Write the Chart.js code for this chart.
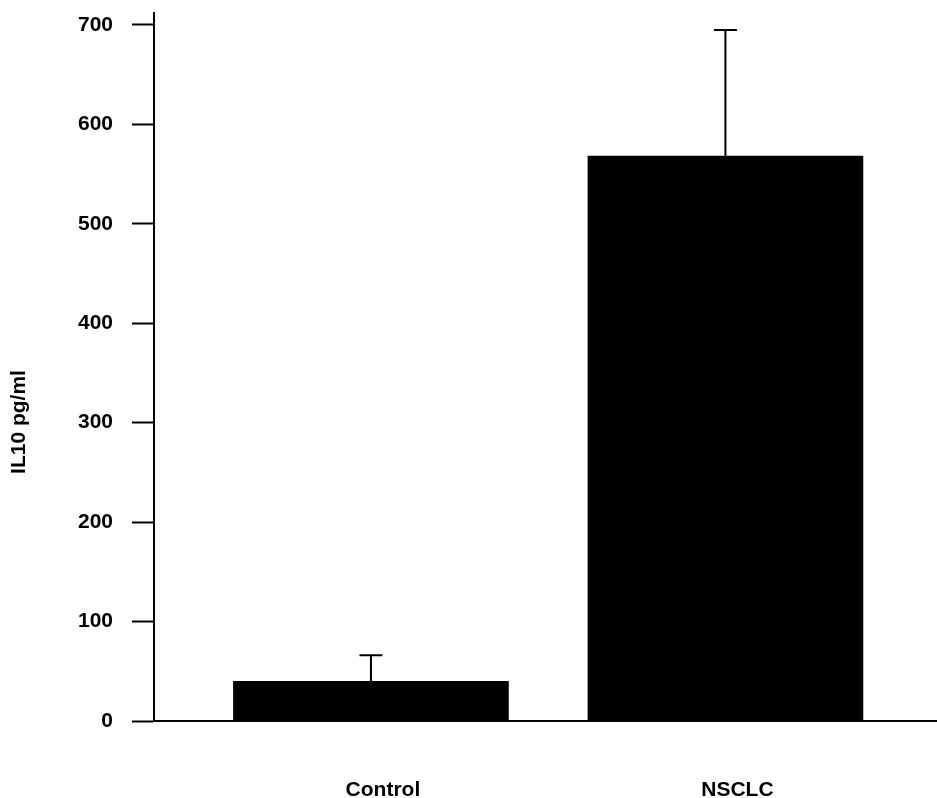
<!DOCTYPE html>
<html>
<head>
<meta charset="utf-8">
<title>IL10</title>
<script src="https://cdn.jsdelivr.net/npm/chart.js@4.4.1/dist/chart.umd.min.js"></script>
<style>
  html, body { margin: 0; padding: 0; background: #fff; }
  canvas { display: block; }
</style>
</head>
<body>
<canvas id="il10Chart" width="937" height="798"></canvas>
<script>
// values
const categories = ["Control", "NSCLC"];
const means = [40, 568];
const errors = [26, 127];
const yTicks = [0, 100, 200, 300, 400, 500, 600, 700];
const yTitle = "IL10 pg/ml";

const FONT = { family: "'Liberation Sans', Arial, sans-serif", size: 21, weight: "bold" };

// upper error bars drawn through the scales
const errorBars = {
  id: "errorBars",
  afterDatasetsDraw(chart) {
    const { ctx, scales } = chart;
    const meta = chart.getDatasetMeta(0);
    ctx.save();
    ctx.strokeStyle = "#000";
    ctx.lineWidth = 2;
    meta.data.forEach((bar, i) => {
      const x = bar.x;
      const y0 = scales.y.getPixelForValue(means[i]);
      const y1 = scales.y.getPixelForValue(means[i] + errors[i]);
      ctx.beginPath();
      ctx.moveTo(x, y0);
      ctx.lineTo(x, y1);
      ctx.moveTo(x - 11.5, y1);
      ctx.lineTo(x + 11.5, y1);
      ctx.stroke();
    });
    ctx.restore();
  },
};

// y title sits lower than the axis middle in the original
const yTitlePlugin = {
  id: "yTitlePlugin",
  afterDraw(chart) {
    const { ctx } = chart;
    ctx.save();
    ctx.translate(19, 422);
    ctx.rotate(-Math.PI / 2);
    ctx.font = `${FONT.weight} ${FONT.size}px ${FONT.family}`;
    ctx.fillStyle = "#000";
    ctx.textAlign = "center";
    ctx.textBaseline = "middle";
    ctx.fillText(yTitle, 0, 0);
    ctx.restore();
  },
};

const ctx = document.getElementById("il10Chart").getContext("2d");
new Chart(ctx, {
  type: "bar",
  data: {
    datasets: [
      {
        data: categories.map((c, i) => ({ x: i + 1, y: means[i] })),
        backgroundColor: "#000",
        borderWidth: 0,
        barThickness: 275,
      },
    ],
  },
  options: {
    responsive: false,
    animation: false,
    layout: { padding: { top: 13, right: 1, left: 0, bottom: 0 } },
    plugins: {
      legend: { display: false },
      tooltip: { enabled: false },
    },
    scales: {
      x: {
        type: "linear",
        offset: false,
        min: 0.388,
        max: 2.594,
        afterBuildTicks: (scale) => {
          scale.ticks = categories.map((c, i) => ({ value: i + 1 }));
        },
        afterFit: (scale) => {
          scale.height = 77;
          scale.paddingLeft = 0;
          scale.paddingRight = 0;
        },
        ticks: {
          callback: (value) => categories[value - 1],
          font: FONT,
          color: "#000",
          padding: 49,
          labelOffset: 12,
          maxRotation: 0,
        },
        grid: { display: false, offset: false },
        border: { display: true, color: "#000", width: 2 },
      },
      y: {
        min: 0,
        max: 712,
        afterBuildTicks: (scale) => {
          scale.ticks = yTicks.map((v) => ({ value: v }));
        },
        afterFit: (scale) => {
          scale.width = 154;
          scale.paddingTop = 0;
          scale.paddingBottom = 0;
        },
        ticks: {
          font: FONT,
          color: "#000",
          padding: 19,
        },
        grid: {
          drawOnChartArea: false,
          drawTicks: true,
          tickLength: 22,
          tickWidth: 2,
          tickColor: "#000",
        },
        border: { display: true, color: "#000", width: 2 },
      },
    },
  },
  plugins: [errorBars, yTitlePlugin],
});
</script>
</body>
</html>
